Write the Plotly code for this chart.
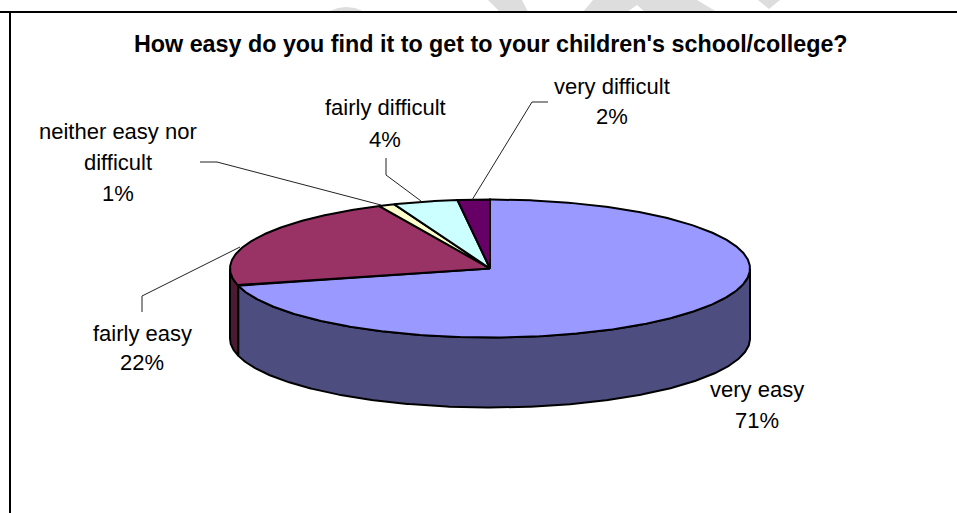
import numpy as np
import plotly.graph_objects as go

categories = ["very easy", "fairly easy", "neither easy nor difficult", "fairly difficult", "very difficult"]
percent = [71, 22, 1, 4, 2]
top_colors = ["#9999FF", "#993366", "#FFFFCC", "#CCFFFF", "#660066"]
side_colors = ["#4D4D80", "#4D1A33", "#808066", "#668080", "#330033"]
title_text = "How easy do you find it to get to your children's school/college?"

label_lines = [
    ("very easy", 757, 389), ("71%", 757, 420),
    ("fairly easy", 142, 333), ("22%", 142, 362),
    ("neither easy nor", 118, 131), ("difficult", 118, 162), ("1%", 118, 193),
    ("fairly difficult", 385, 107), ("4%", 385, 139),
    ("very difficult", 612, 86), ("2%", 612, 116),
]
leaders = [
    [(548, 102), (532, 102), (472, 200)],
    [(386, 158), (386, 175), (421, 201)],
    [(200, 162), (217, 162), (381, 205)],
    [(142, 312), (142, 296), (240, 247)],
]
watermark = [
    [(327, 12), (338, 8), (346, 7), (355, 8), (365, 12)],
    [(488, 0), (522, 0), (528, 12), (500, 12)],
    [(583, 12), (593, 0), (697, 0), (717, 12), (645, 12), (637, 5), (627, 12)],
    [(758, 0), (780, 0), (769, 9)],
]

CX, CY, RX, RY, DEPTH = 490, 268.5, 260, 69, 70


def rim(a0, a1):
    t = np.radians(np.linspace(a0, a1, max(2, int(abs(a1 - a0) * 2) + 1)))
    return CX + RX * np.sin(t), CY - RY * np.cos(t)


fig = go.Figure()

for pts in watermark:
    fig.add_trace(go.Scatter(x=[p[0] for p in pts], y=[p[1] for p in pts], mode="lines",
                             fill="toself", fillcolor="#DDDDDD", line=dict(width=0),
                             hoverinfo="skip", showlegend=False))

edges = np.cumsum([0] + percent) * 3.6
# side walls (front half only)
for i, name in enumerate(categories):
    a0, a1 = max(edges[i], 90), min(edges[i + 1], 270)
    if a1 <= a0:
        continue
    x, y = rim(a0, a1)
    fig.add_trace(go.Scatter(
        x=np.r_[x, x[::-1], x[0]], y=np.r_[y, y[::-1] + DEPTH, y[0]],
        mode="lines", fill="toself", fillcolor=side_colors[i],
        line=dict(color="black", width=2), hoverinfo="skip", showlegend=False))
# top faces
for i, name in enumerate(categories):
    x, y = rim(edges[i], edges[i + 1])
    fig.add_trace(go.Scatter(
        x=np.r_[CX, x, CX], y=np.r_[CY, y, CY],
        mode="lines", fill="toself", fillcolor=top_colors[i], name=name,
        line=dict(color="black", width=2), showlegend=False))

for pts in leaders:
    fig.add_trace(go.Scatter(x=[p[0] for p in pts], y=[p[1] for p in pts], mode="lines",
                             line=dict(color="#222222", width=1), hoverinfo="skip", showlegend=False))

FONT = "Liberation Sans"
annotations = [dict(x=x, y=y, text=t, showarrow=False, xanchor="center", yanchor="middle",
                    font=dict(family=FONT, size=22, color="black")) for t, x, y in label_lines]
annotations.append(dict(x=490.5, y=44, text="<b>%s</b>" % title_text, showarrow=False,
                        xanchor="center", yanchor="middle",
                        font=dict(family=FONT, size=23.3, color="black")))

frame = [
    dict(type="line", x0=0, x1=957, y0=12, y1=12, line=dict(color="black", width=2)),
    dict(type="line", x0=10, x1=10, y0=12, y1=513, line=dict(color="black", width=2)),
]

fig.update_layout(
    width=957, height=513, margin=dict(l=0, r=0, t=0, b=0),
    paper_bgcolor="white", plot_bgcolor="white",
    xaxis=dict(range=[0, 957], visible=False, fixedrange=True),
    yaxis=dict(range=[513, 0], visible=False, fixedrange=True),
    annotations=annotations, shapes=frame, showlegend=False,
)
fig.write_html("out.html", post_script="document.body.style.margin='0';",
               config=dict(displayModeBar=False))
